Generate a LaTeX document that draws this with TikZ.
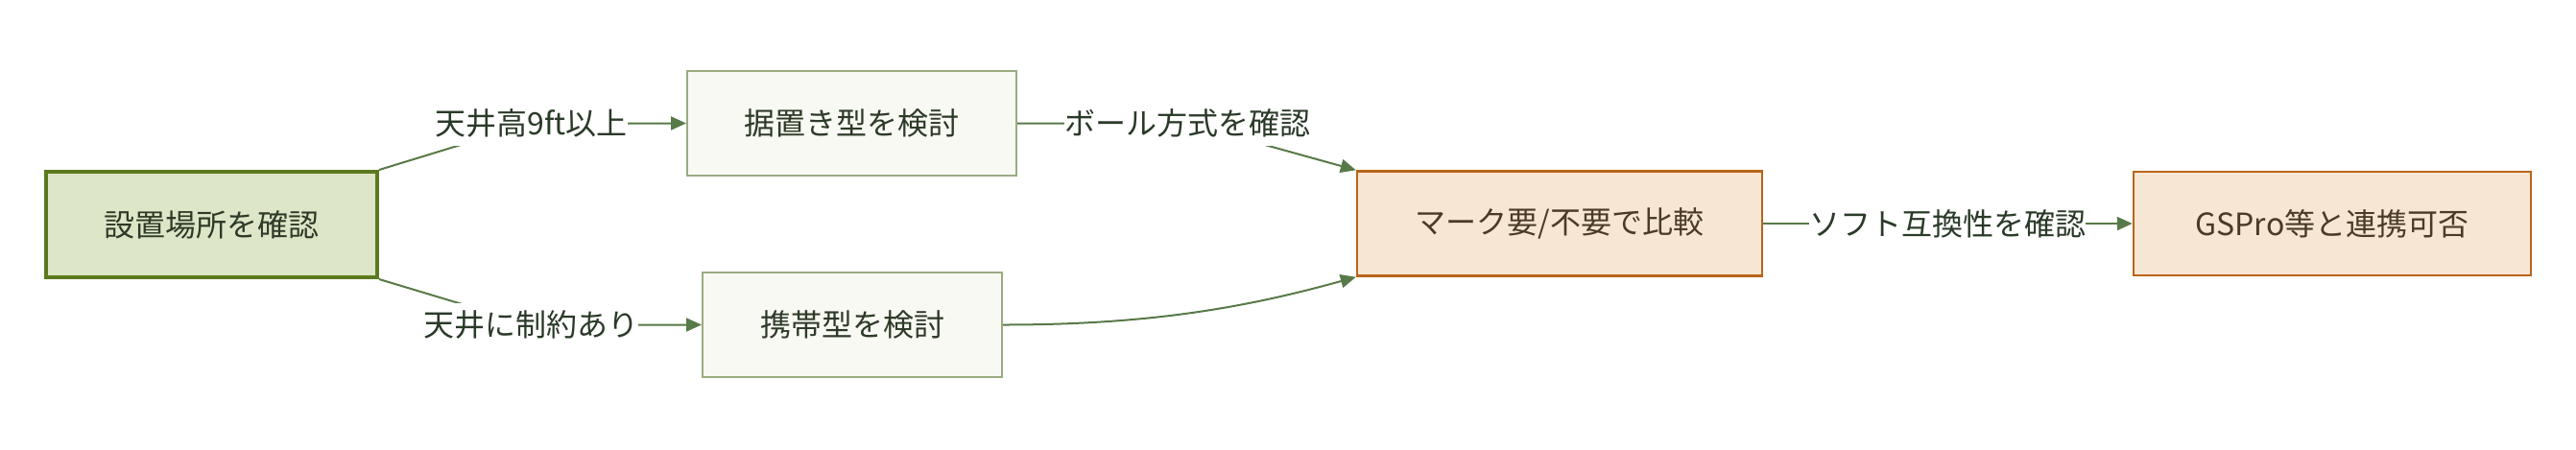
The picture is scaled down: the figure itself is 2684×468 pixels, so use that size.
\documentclass[tikz,border=0pt]{standalone}
\usepackage{fontspec}
\newfontfamily\jp{Noto Sans CJK JP}
\usetikzlibrary{arrows.meta,backgrounds}
\definecolor{aFill}{HTML}{DDE6C6}
\definecolor{aLine}{HTML}{5B7A1F}
\definecolor{aText}{HTML}{2E3A28}
\definecolor{gFill}{HTML}{F8F9F2}
\definecolor{gLine}{HTML}{9AAB82}
\definecolor{oFill}{HTML}{F6E6D3}
\definecolor{oLine}{HTML}{B8641A}
\definecolor{oText}{HTML}{4A3A28}
\definecolor{lText}{HTML}{2A3A28}
\definecolor{eCol}{HTML}{587A48}
\begin{document}
\begin{tikzpicture}[x=0.5pt,y=-0.5pt,
  txt/.style={font=\jp\fontsize{16pt}{19pt}\selectfont},
  box/.style={txt, draw, rectangle, inner sep=0pt, minimum height=54.5pt},
  startbox/.style={box, fill=aFill, draw=aLine, line width=2pt, text=aText},
  greenbox/.style={box, fill=gFill, draw=gLine, line width=1pt, text=aText},
  orangebox/.style={box, fill=oFill, draw=oLine, line width=1.2pt, text=oText},
  elabel/.style={txt, fill=white, inner sep=0pt, minimum height=23pt, text=lText},
  edge/.style={draw=eCol, line width=1pt},
  arrow/.style={edge, -{Triangle[length=8pt,width=7pt]}}
]
\useasboundingbox (0,0) rectangle (2684,468);
\node[startbox, minimum width=172.5pt, minimum height=55pt] (A) at (220.5,234) {設置場所を確認};
\node[greenbox, minimum width=171.5pt] (B) at (887.5,128.5) {据置き型を検討};
\node[greenbox, minimum width=156pt] (C) at (888,338.5) {携帯型を検討};
\node[orangebox, minimum width=211pt] (D) at (1625,233) {マーク要/不要で比較};
\node[orangebox, minimum width=207pt, minimum height=54pt] (E) at (2430,233) {GSPro等と連携可否};
\node[elabel] (l1) at (553.5,128.5) {天井高9ft以上};
\node[elabel] (l2) at (553,338.5) {天井に制約あり};
\node[elabel] (l3) at (1237,128.5) {ボール方式を確認};
\node[elabel] (l4) at (2029,233) {ソフト互換性を確認};
\begin{scope}[on background layer]
\draw[arrow] (A.north east) -- (l1.center) -- (B.west);
\draw[arrow] (A.south east) -- (l2.center) -- (C.west);
\draw[arrow] (B.east) -- (l3.center) -- (D.north west);
\draw[arrow] (C.east) .. controls (1200,338.5) and (1300,320) .. (D.south west);
\draw[arrow] (D.east) -- (l4.center) -- (E.west);
\end{scope}
\end{tikzpicture}
\end{document}
